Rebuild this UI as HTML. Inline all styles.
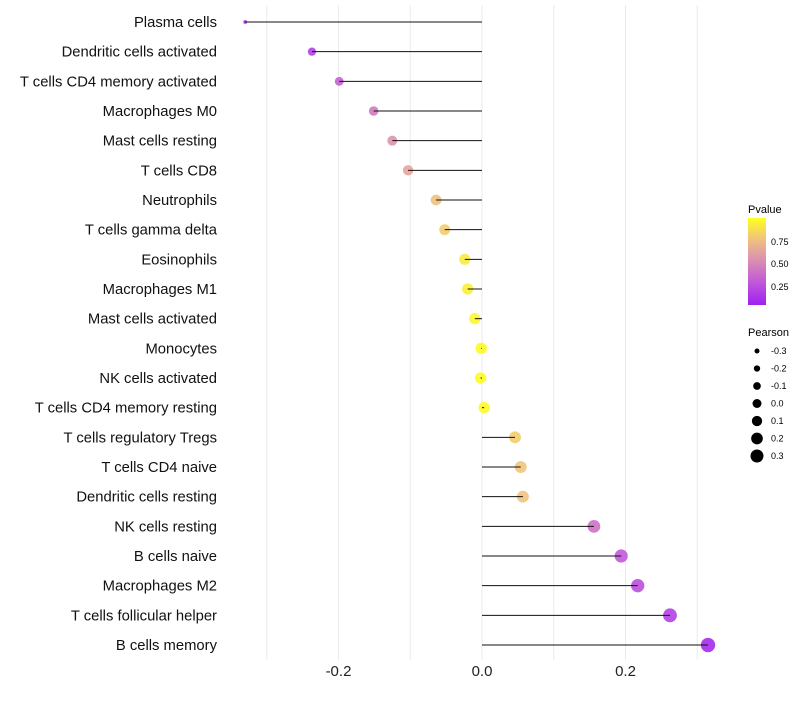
<!DOCTYPE html>
<html><head><meta charset="utf-8"><style>
body{margin:0;background:#fff;font-family:"Liberation Sans",sans-serif;}
svg text{font-family:"Liberation Sans",sans-serif;}
</style></head><body>
<svg id="chart" width="800" height="700">
<defs>
<linearGradient id="pg" x1="0" y1="1" x2="0" y2="0">
<stop offset="0" stop-color="#a020f0"/><stop offset="0.25" stop-color="#c055dc"/>
<stop offset="0.5" stop-color="#d98cb4"/><stop offset="0.75" stop-color="#f0c080"/>
<stop offset="1" stop-color="#ffff20"/></linearGradient>
</defs>
<g id="grid"></g><g id="dots"></g><g id="marks"></g><g id="labels"></g>
<g>
<text x="748" y="213" font-size="11">Pvalue</text>
<rect x="748" y="218" width="18" height="87" fill="url(#pg)"/>
<text x="771" y="245" font-size="9">0.75</text>
<text x="771" y="267" font-size="9">0.50</text>
<text x="771" y="290" font-size="9">0.25</text>
</g>
<g id="sizeLegend">
<text x="748" y="336" font-size="11">Pearson</text>
</g>
</svg>
<script>
const categories=["Plasma cells","Dendritic cells activated","T cells CD4 memory activated","Macrophages M0","Mast cells resting","T cells CD8","Neutrophils","T cells gamma delta","Eosinophils","Macrophages M1","Mast cells activated","Monocytes","NK cells activated","T cells CD4 memory resting","T cells regulatory  Tregs ","T cells CD4 naive","Dendritic cells resting","NK cells resting","B cells naive","Macrophages M2","T cells follicular helper","B cells memory"];
const pearson=[-0.330,-0.237,-0.199,-0.151,-0.125,-0.103,-0.064,-0.052,-0.024,-0.020,-0.010,-0.001,-0.002,0.003,0.046,0.054,0.057,0.156,0.194,0.217,0.262,0.315];
const pvalue=[0.05,0.15,0.3,0.42,0.55,0.62,0.75,0.8,0.92,0.94,0.97,0.99,0.99,0.98,0.8,0.77,0.76,0.38,0.27,0.22,0.15,0.05];
const xTicks=[-0.2,0,0.2];
const xTickLabels=["-0.2","0.0","0.2"];
const sizeLegend=[-0.3,-0.2,-0.1,0.0,0.1,0.2,0.3];
const NS="http://www.w3.org/2000/svg";
const x=v=>482+v*717.5;
const y=i=>22+i*29.667;
const knots=[[-0.33,1.9],[-0.24,4.1],[-0.1,5.2],[0,5.7],[0.16,6.4],[0.32,7.2]];
function r(v){if(v<=knots[0][0])return knots[0][1];for(let i=1;i<knots.length;i++){if(v<=knots[i][0]){const a=knots[i-1],b=knots[i];return a[1]+(b[1]-a[1])*(v-a[0])/(b[0]-a[0]);}}return 7.2;}
const rl=v=>4.5+v*6.67;
const stops=[[0,[160,32,240]],[0.25,[192,85,220]],[0.5,[217,140,180]],[0.75,[240,192,128]],[1,[255,255,32]]];
function col(p){for(let i=1;i<stops.length;i++){if(p<=stops[i][0]){const a=stops[i-1],b=stops[i],t=(p-a[0])/(b[0]-a[0]);return"rgb("+a[1].map((c,k)=>Math.round(c+(b[1][k]-c)*t)).join(",")+")";}}return"rgb(255,255,32)";}
function mk(t,a,p){const e=document.createElementNS(NS,t);for(const k in a)e.setAttribute(k,a[k]);p.appendChild(e);return e;}
const grid=document.getElementById('grid'),dots=document.getElementById('dots'),marks=document.getElementById('marks'),labels=document.getElementById('labels');
[-0.3,-0.2,-0.1,0,0.1,0.2,0.3].forEach(v=>{const l=mk('line',{x1:x(v),x2:x(v),y1:5,y2:660,stroke:'#ebebeb','stroke-width':1},grid);

});
categories.forEach((c,i)=>{
const d=mk('circle',{cx:x(pearson[i]),cy:y(i),r:r(pearson[i]),fill:col(pvalue[i]),'fill-opacity':0.9},dots);


const ln=mk('line',{x1:x(0),x2:x(pearson[i]),y1:y(i),y2:y(i),stroke:'#111','stroke-width':1},marks);


const t=mk('text',{x:217,y:y(i)+5,'text-anchor':'end','font-size':14.8,fill:'#111'},labels);t.textContent=c;


});
xTicks.forEach((v,i)=>{const t=mk('text',{x:x(v),y:676,'text-anchor':'middle','font-size':15,fill:'#222'},labels);t.textContent=xTickLabels[i];

});
const sl=document.getElementById('sizeLegend');
sizeLegend.forEach((v,i)=>{const yy=351+i*17.5;
const c=mk('circle',{cx:757,cy:yy,r:rl(v),fill:'#000'},sl);


const t=mk('text',{x:771,y:yy+3,'font-size':9},sl);t.textContent=v.toFixed(1);

});
</script>
</body></html>
